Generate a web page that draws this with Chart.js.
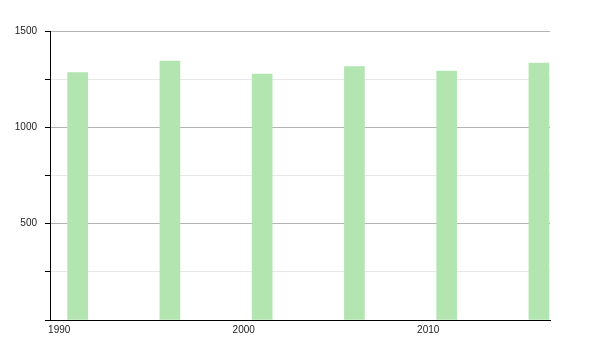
<!DOCTYPE html>
<html>
<head>
<meta charset="utf-8">
<script src="https://cdn.jsdelivr.net/npm/chart.js@4"></script>
<style>
  html, body { margin: 0; padding: 0; background: #fff; }
  #wrap { width: 600px; height: 350px; }
</style>
</head>
<body>
<div id="wrap"><canvas id="popChart" width="600" height="350"></canvas></div>
<script>
const censusYears = [1991, 1996, 2001, 2006, 2011, 2016];
const population = [1284, 1344, 1277, 1315, 1292, 1334];
const yearTicks = [1990, 2000, 2010];

const ctx = document.getElementById("popChart").getContext("2d");
new Chart(ctx, {
  type: "bar",
  data: {
    datasets: [
      {
        label: "Population",
        data: censusYears.map((year, i) => ({ x: year, y: population[i] })),
        backgroundColor: "rgb(178, 229, 176)",
        barThickness: 20,
      },
    ],
  },
  options: {
    responsive: false,
    animation: false,
    layout: { padding: { top: 31, right: 50, left: 0, bottom: 0 } },
    plugins: { legend: { display: false }, tooltip: { enabled: false } },
    scales: {
      x: {
        type: "linear",
        min: 1989.5,
        max: 2016.6,
        offset: false,
        afterBuildTicks: (scale) => {
          scale.ticks = yearTicks.map((v) => ({ value: v }));
        },
        afterFit: (scale) => { scale.height = 30; },
        grid: { display: false, drawTicks: false },
        border: { display: true, color: "#000", width: 1 },
        ticks: {
          padding: 4,
          color: "#222",
          font: { family: "'Liberation Sans', Arial, sans-serif", size: 10 },
          callback: (value) => String(value),
        },
      },
      y: {
        min: 0,
        max: 1500,
        afterFit: (scale) => { scale.width = 50; },
        grid: {
          color: (c) => (c.tick.value === 0 ? "rgba(0,0,0,0)" : c.tick.value % 500 === 0 ? "#b4b4b4" : "#e8e8e8"),
          tickColor: "#000",
          tickLength: 5,
        },
        border: { display: true, color: "#000", width: 1 },
        ticks: {
          stepSize: 250,
          padding: 8,
          color: "#222",
          font: { family: "'Liberation Sans', Arial, sans-serif", size: 10 },
          callback: (value) => (value !== 0 && value % 500 === 0 ? String(value) : ""),
        },
      },
    },
  },
});
</script>
</body>
</html>
